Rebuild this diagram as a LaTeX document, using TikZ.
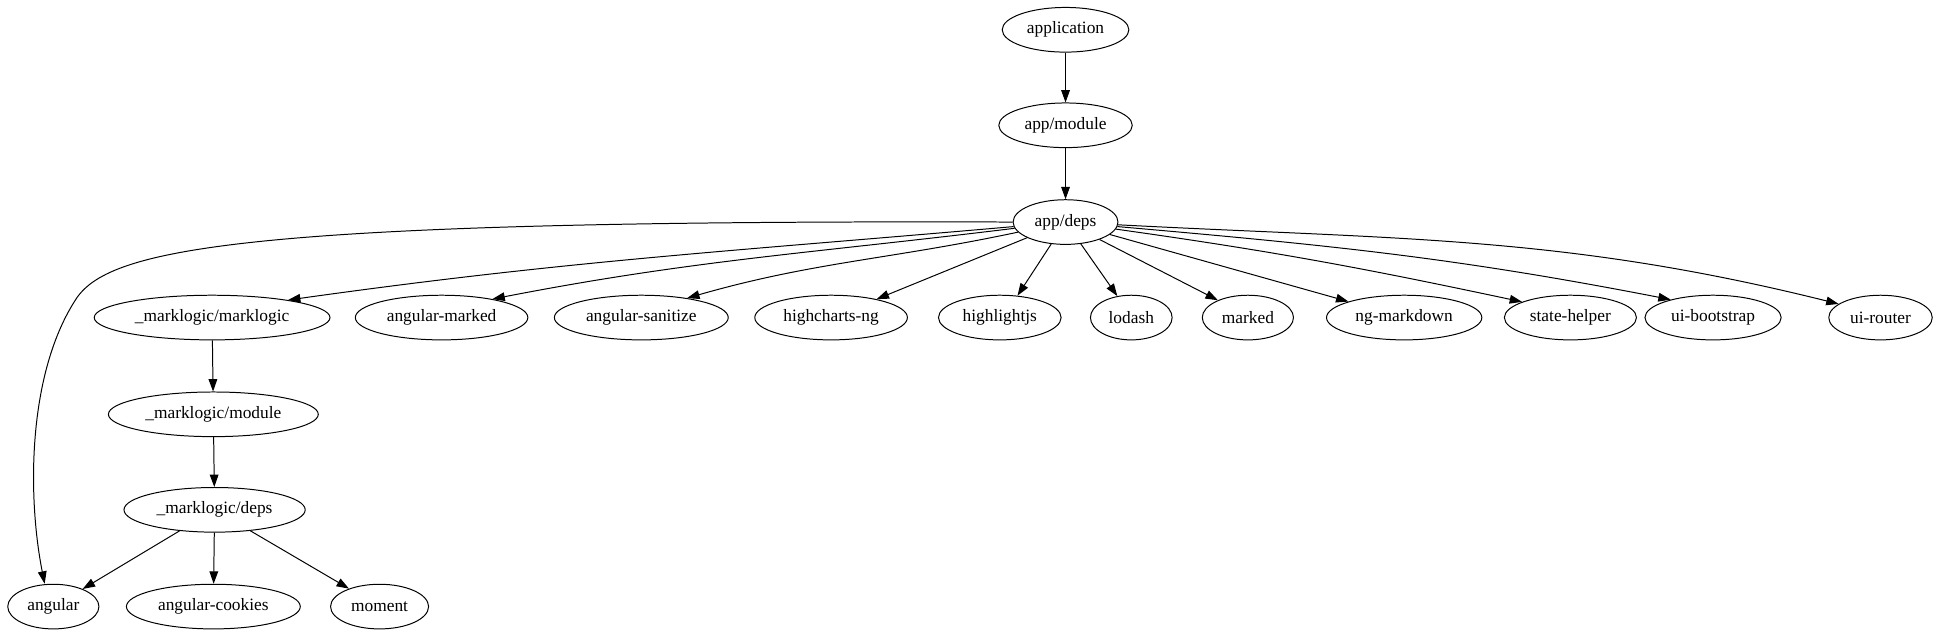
\documentclass[tikz,border=0pt]{standalone}
\usepackage{fontspec}
\setmainfont{Liberation Serif}
\usetikzlibrary{arrows.meta,shapes.geometric}

\begin{document}
\begin{tikzpicture}[
      x=1pt, y=1pt,
      font=\fontsize{14}{16}\selectfont,
      dep/.style={draw, ellipse, line width=0.8pt, minimum height=36pt,
                  minimum width=54pt, inner xsep=5pt, inner ysep=2pt},
      edge/.style={draw, line width=0.8pt,
                   -{Triangle[length=10pt, width=7pt]}}]

    %% Frame: 1pt of picture = 1px of the shrunk reference, y runs downward.
    \useasboundingbox (0,0) rectangle (1568,-512);

    %% ---- top chain ----
    \node[dep] (app)  at (859,-24)  {application};
    \node[dep] (mod)  at (859,-101) {app/module};
    \node[dep] (deps) at (859,-179) {app/deps};

    %% ---- the deps row: everything app/deps pulls in ----
    \node[dep] (mlml) at (171,-256)  {\_marklogic/marklogic};
    \node[dep] (amkd) at (356,-256)  {angular-marked};
    \node[dep] (asan) at (517,-256)  {angular-sanitize};
    \node[dep] (hcng) at (670,-256)  {highcharts-ng};
    \node[dep] (hljs) at (806,-256)  {highlightjs};
    \node[dep] (lod)  at (912,-256)  {lodash};
    \node[dep] (mkd)  at (1006,-256) {marked};
    \node[dep] (ngmd) at (1132,-256) {ng-markdown};
    \node[dep] (sth)  at (1266,-256) {state-helper};
    \node[dep] (uib)  at (1381,-256) {ui-bootstrap};
    \node[dep] (uir)  at (1516,-256) {ui-router};

    %% ---- the _marklogic sub-chain ----
    \node[dep] (mlmod)  at (172,-334) {\_marklogic/module};
    \node[dep] (mldeps) at (173,-411) {\_marklogic/deps};
    \node[dep] (ang)    at (43,-489)  {angular};
    \node[dep] (angck)  at (172,-489) {angular-cookies};
    \node[dep] (mom)    at (306,-489) {moment};

    %% ---- connectors ----
    \draw[edge] (app) -- (mod);
    \draw[edge] (mod) -- (deps);

    %% fan-out, near ones straight: target/anchor angle on its rim
    \foreach \tgt/\anc in {hcng/22, hljs/51, lod/123, mkd/150, ngmd/164}
      \draw[edge] (deps) -- (\tgt.\anc);
    %% far ones leave app/deps flat and drop in at the end
    \foreach \tgt/\anc/\ao/\ai in {mlml/13/185/8, amkd/20/187/11, asan/23/192/16,
                                   sth/162/-8/168, uib/157/-5/169, uir/162/-3/166}
      \draw[edge] (deps) to[out=\ao, in=\ai] (\tgt.\anc);

    %% the long way round to angular
    \draw[edge] (deps.west) .. controls (200,-177) and (90,-200) .. (62,-240)
                .. controls (22,-300) and (22,-400) .. ([xshift=-7pt]ang.north);

    \draw[edge] (mlml) -- (mlmod);
    \draw[edge] (mlmod) -- (mldeps);
    \draw[edge] (mldeps) -- (ang);
    \draw[edge] (mldeps) -- (angck);
    \draw[edge] (mldeps) -- (mom);
  \end{tikzpicture}
\end{document}
